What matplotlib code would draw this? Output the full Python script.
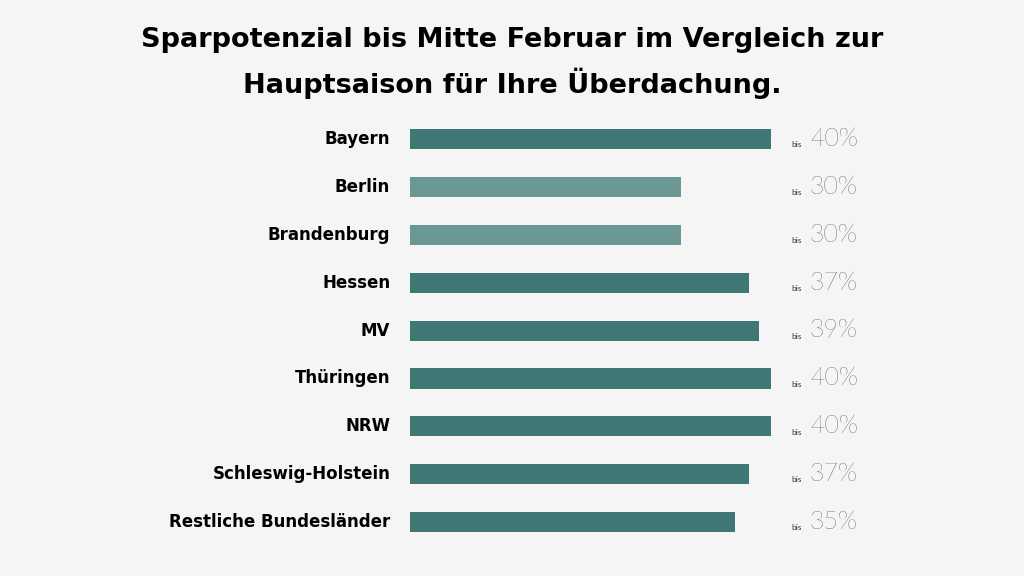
import matplotlib.pyplot as plt

regions = ['Bayern', 'Berlin', 'Brandenburg', 'Hessen', 'MV', 'Thüringen', 'NRW',
           'Schleswig-Holstein', 'Restliche Bundesländer']
bar_values = [40, 30, 30, 37.5, 38.7, 40, 40, 37.5, 36]
labels = ['40%', '30%', '30%', '37%', '39%', '40%', '40%', '37%', '35%']
colors = ['#3e7774', '#6b9894', '#6b9894', '#3e7774', '#3e7774', '#3e7774', '#3e7774',
          '#3e7774', '#3e7774']

plt.rcParams['font.family'] = ['DejaVu Sans']
bg = '#f5f5f5'
fig = plt.figure(figsize=(10.24, 5.76), dpi=100, facecolor=bg)
ax = fig.add_axes([0.4004, 0.052, 0.753 - 0.4004, 0.748])
ax.set_facecolor(bg)

y = list(range(len(regions)))
ax.barh(y, bar_values, height=0.42, color=colors)
ax.set_xlim(0, 40)
ax.set_ylim(len(regions) - 0.5, -0.5)
ax.axis('off')

for i, (name, lab) in enumerate(zip(regions, labels)):
    ax.text(-2.2, i, name, ha='right', va='center', fontsize=12, fontweight='bold')
    ax.text(2.3 + 40, i + 0.12, 'bis', ha='left', va='center', fontsize=6, color='#333333',
            family='Lato')
    ax.text(44.3, i, lab, ha='left', va='center', fontsize=18, color='#111111',
            family='Lato', fontweight='light')

fig.text(0.5, 0.93, 'Sparpotenzial bis Mitte Februar im Vergleich zur', ha='center', va='center',
         fontsize=19.5, fontweight='bold')
fig.text(0.5, 0.855, 'Hauptsaison für Ihre Überdachung.', ha='center', va='center',
         fontsize=19.5, fontweight='bold')

fig.savefig('out.png', facecolor=bg)
